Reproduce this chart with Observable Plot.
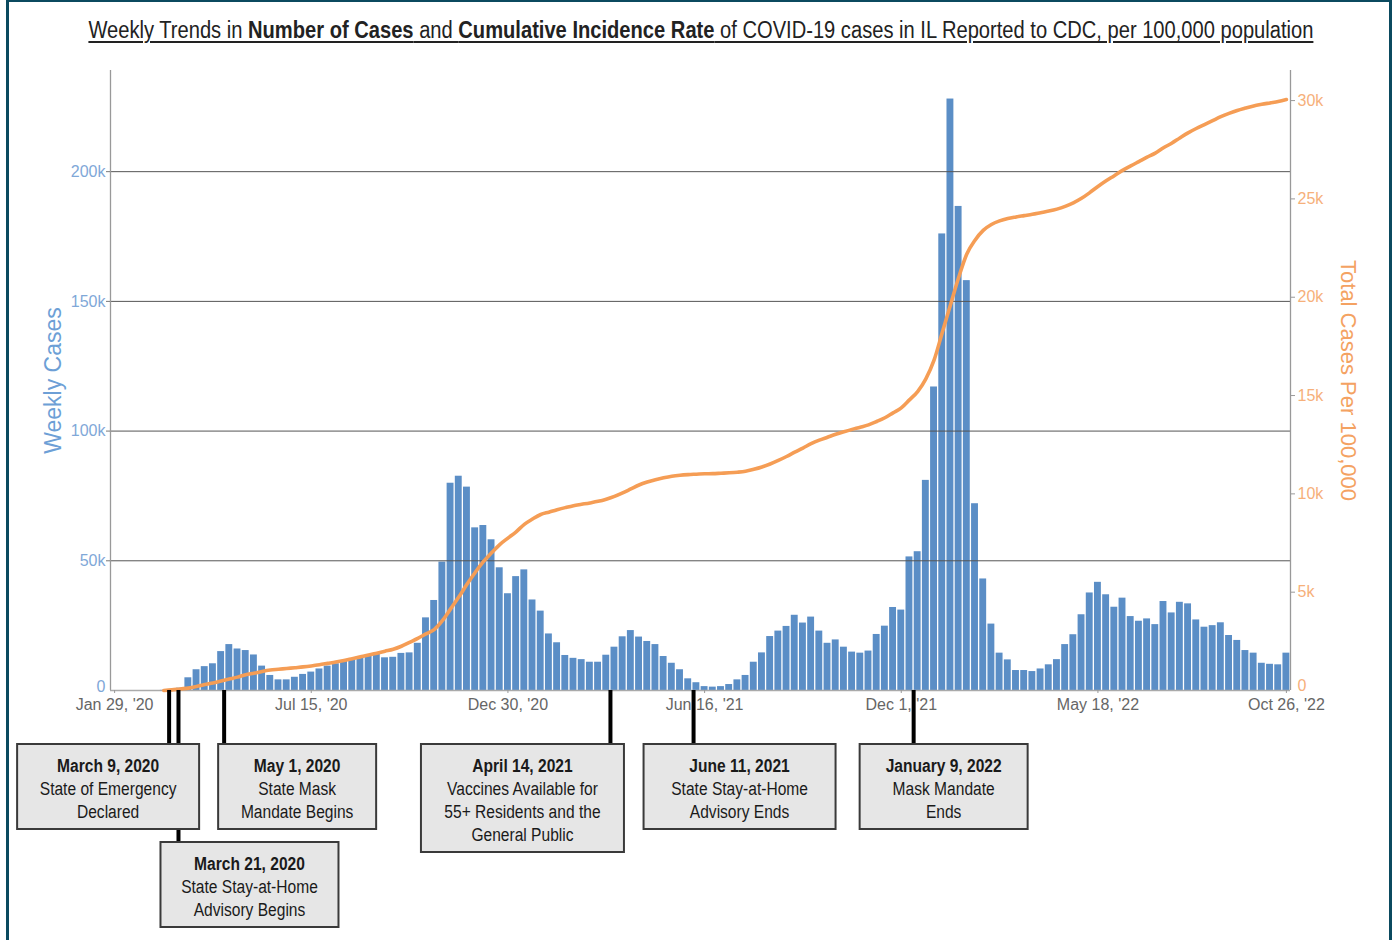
<!DOCTYPE html>
<html><head><meta charset="utf-8">
<script src="https://cdn.jsdelivr.net/npm/d3@7"></script>
<script src="https://cdn.jsdelivr.net/npm/@observablehq/plot@0.6"></script>
<style>
html,body{margin:0;padding:0;background:#fff;}
#wrap{position:relative;width:1394px;height:940px;overflow:hidden;background:#fff;}
#frame{position:absolute;left:6px;top:0;width:1386px;height:980px;border-left:3px solid #0b4a5f;border-top:2px solid #0b4a5f;border-right:3px solid #0b4a5f;box-sizing:border-box;pointer-events:none;z-index:5;}
#title{position:absolute;left:0;width:1401px;top:15px;text-align:center;font-family:"Liberation Sans",Arial,sans-serif;font-size:23px;color:#222;white-space:nowrap;line-height:30px;}
#title span.t{display:inline-block;text-decoration:underline;text-underline-offset:3px;transform-origin:50% 50%;}
#chart{position:absolute;left:0;top:50px;}
</style></head>
<body>
<div id="wrap">
  <div id="title"><span class="t">Weekly Trends in <b>Number of Cases</b> and <b>Cumulative Incidence Rate</b> of COVID-19 cases in IL Reported to CDC, per 100,000 population</span></div>
  <div id="chart"></div>
  <div id="frame"></div>
</div>
<script>
// ---------- data ----------
const firstWeek = "2020-01-29";
const weeklyCases = [
  0,0,0,0,0,0,50,300,900,4900,
  8000,9200,10300,15000,17700,16000,15400,13700,9400,5800,
  4100,4100,5100,6200,7100,8300,9400,10300,11200,12000,
  12800,13700,14400,12600,12800,14300,14500,18200,28000,34700,
  49500,79900,82600,78400,62700,63600,58100,47300,37300,43900,
  46500,34900,30600,21800,18400,13500,12400,11900,10900,10900,
  13600,16700,20700,23100,20600,18900,17700,13100,10500,8000,
  4500,3000,1500,1300,1500,2300,4100,5800,10900,14500,
  20800,22900,24700,29000,26000,28300,22900,18200,19500,16700,
  14800,14400,15200,21600,24800,32000,31000,51500,53500,81000,
  117000,176000,228000,186600,158000,72000,43000,25600,14400,11800,
  7700,7700,7300,8300,9900,11900,17700,21500,29200,37600,
  41700,36900,32100,35600,28500,26700,27600,25400,34300,29900,
  34000,33400,27200,24400,25000,26100,21200,19300,15400,14400,
  10500,10100,9900,14400
];
const cumulativePer100k = [
  null,null,null,null,null,null,0,30,80,120,
  200,300,380,480,580,680,800,880,970,1040,
  1080,1120,1160,1200,1250,1310,1380,1450,1530,1620,
  1710,1800,1900,2000,2100,2250,2450,2650,2880,3100,
  3550,4150,4750,5400,6000,6550,7000,7420,7750,8070,
  8450,8720,8950,9070,9190,9300,9400,9470,9540,9620,
  9730,9870,10050,10250,10450,10600,10720,10820,10900,10950,
  10980,11000,11020,11030,11050,11070,11100,11150,11250,11370,
  11520,11700,11900,12120,12330,12550,12730,12880,13030,13160,
  13280,13390,13510,13680,13870,14120,14370,14780,15200,15850,
  16800,18200,19600,21000,22200,22900,23400,23700,23880,24000,
  24080,24150,24220,24300,24380,24480,24620,24800,25030,25320,
  25630,25920,26180,26450,26680,26900,27120,27330,27600,27830,
  28100,28360,28580,28780,28980,29180,29350,29500,29620,29730,
  29810,29880,29950,30050
];
const leftTicks = [0, 50000, 100000, 150000, 200000];
const rightTicks = [0, 5000, 10000, 15000, 20000, 25000, 30000];
const xTickLabelsDates = ["2020-01-29","2020-07-15","2020-12-30","2021-06-16","2021-12-01","2022-05-18","2022-10-26"];
const leftMax = 239000, rightMax = 31530;

// events: connector position (as drawn in the picture), heading, body lines
const eventMarkerDates = ["2020-03-16","2020-03-24","2020-05-02","2021-03-28","2021-06-07","2021-12-12"];
const eventHeadings = ["March 9, 2020","March 21, 2020","May 1, 2020","April 14, 2021","June 11, 2021","January 9, 2022"];
const eventBodies = [
  ["State of Emergency","Declared"],
  ["State Stay-at-Home","Advisory Begins"],
  ["State Mask","Mandate Begins"],
  ["Vaccines Available for","55+ Residents and the","General Public"],
  ["State Stay-at-Home","Advisory Ends"],
  ["Mask Mandate","Ends"]
];
// layout of the boxes (pixel offsets from connector, width, row)
const boxLayout = [
  {dx:-61, w:182, row:0},
  {dx:71,  w:178, row:1},
  {dx:73,  w:158, row:0},
  {dx:-88, w:203, row:0},
  {dx:46,  w:192, row:0},
  {dx:30,  w:168, row:0}
];

// ---------- build ----------
const start = new Date(firstWeek);
const rows = weeklyCases.map((v, i) => ({
  date: d3.utcDay.offset(start, 7 * i),
  cases: v,
  cum: cumulativePer100k[i]
}));
const k = leftMax / rightMax;
const half = 84; // hours (half a week)
const xDomain = [d3.utcHour.offset(rows[0].date, -half), d3.utcHour.offset(rows[rows.length - 1].date, half)];
const fmtK = d => d === 0 ? "0" : (d / 1000) + "k";
const W = 1394, H = 890, mT = 20, mB = 250, mL = 110, mR = 104;
const font = "'Liberation Sans', Arial, sans-serif";
const leftFill = "#7fa8d8", rightFill = "#f6b07a";

const chart = Plot.plot({
  width: W, height: H,
  marginTop: mT, marginBottom: mB, marginLeft: mL, marginRight: mR,
  style: {fontFamily: font, fontSize: "16px", background: "transparent", overflow: "visible"},
  x: {type: "utc", domain: xDomain},
  y: {domain: [0, leftMax]},
  marks: [
    Plot.rectY(rows, {
      x1: d => d3.utcHour.offset(d.date, -half),
      x2: d => d3.utcHour.offset(d.date, half),
      y: "cases", fill: "#5b8ec6", insetLeft: 0.65, insetRight: 0.65
    }),
    Plot.gridY(leftTicks.filter(d => d > 0), {stroke: "#555", strokeOpacity: 1, strokeWidth: 1}),
    Plot.ruleX(xDomain, {stroke: "#999", strokeWidth: 1.3}),
    Plot.ruleY([0], {stroke: "#aaa", strokeWidth: 1.3}),
    Plot.line(rows.filter(d => d.cum != null), {
      x: "date", y: d => d.cum * k, stroke: "#f59d55", strokeWidth: 3.6, curve: "monotone-x"
    }),
    // left axis (non-zero labels with ticks; zero label nudged up, as in the picture)
    Plot.axisY(leftTicks.filter(d => d > 0), {anchor: "left", label: null, tickFormat: fmtK, tickSize: 4, tickPadding: 1,
      stroke: "#777", fill: leftFill, fontSize: 16}),
    Plot.axisY([0], {anchor: "left", label: null, tickFormat: fmtK, tickSize: 0, tickPadding: 5, dy: -4,
      fill: leftFill, fontSize: 16}),
    // right axis
    Plot.axisY(rightTicks.filter(d => d > 0).map(t => t * k), {anchor: "right", label: null, tickFormat: d => fmtK(Math.round(d / k)),
      tickSize: 4, tickPadding: 3, stroke: "#999", fill: rightFill, fontSize: 16}),
    Plot.axisY([0], {anchor: "right", label: null, tickFormat: fmtK,
      tickSize: 0, tickPadding: 7, dy: -5, fill: rightFill, fontSize: 16}),
    Plot.axisX(xTickLabelsDates.map(d => new Date(d)), {label: null, tickFormat: d3.utcFormat("%b %-d, '%y"),
      tickSize: 3, tickPadding: 5, stroke: "#999", fill: "#666", fontSize: 16}),
    Plot.text(["Weekly Cases"], {text: d => d, frameAnchor: "left", textAnchor: "middle", dx: -57, rotate: -90,
      fontSize: 23, fill: "#6d9fd6"}),
    Plot.text(["Total Cases Per 100,000"], {text: d => d, frameAnchor: "right", textAnchor: "middle", dx: 58, rotate: 90,
      fontSize: 22, fill: "#f4a262"})
  ]
});
document.getElementById("chart").appendChild(chart);

// ---------- event annotations ----------
const xs = chart.scale("x");
const frameBottom = H - mB;
const rowTop = [frameBottom + 54, frameBottom + 152];
const lineGap = 23, firstLine = 21, padBottom = 18;
const g = d3.select(chart).append("g");
const boxFont = "'Liberation Sans',Arial,sans-serif";
eventMarkerDates.forEach((d, i) => {
  const x = xs.apply(new Date(d));
  g.append("line").attr("x1", x).attr("x2", x).attr("y1", frameBottom)
    .attr("y2", rowTop[boxLayout[i].row]).attr("stroke", "#000").attr("stroke-width", 4);
});
eventMarkerDates.forEach((d, i) => {
  const L = boxLayout[i];
  const cx = xs.apply(new Date(d)) + L.dx;
  const top = rowTop[L.row];
  const lines = [eventHeadings[i], ...eventBodies[i]];
  const h = firstLine + lineGap * (lines.length - 1) + padBottom;
  g.append("rect").attr("x", cx - L.w / 2).attr("y", top).attr("width", L.w).attr("height", h)
    .attr("fill", "#e6e6e6").attr("stroke", "#3a3a3a").attr("stroke-width", 2);
  lines.forEach((t, j) => {
    g.append("text")
      .attr("transform", `translate(${cx},${top + firstLine + lineGap * j}) scale(0.82,1)`)
      .attr("text-anchor", "middle").attr("dominant-baseline", "central")
      .attr("font-family", boxFont)
      .attr("font-size", 19).attr("font-weight", j === 0 ? "bold" : "normal")
      .attr("fill", "#1a1a1a").text(t);
  });
});

// fit title width to the reference span (narrow look)
const tspan = document.querySelector("#title span.t");
const tw = tspan.getBoundingClientRect().width;
if (tw > 0) tspan.style.transform = `scaleX(${1225 / tw})`;
</script>
</body></html>
